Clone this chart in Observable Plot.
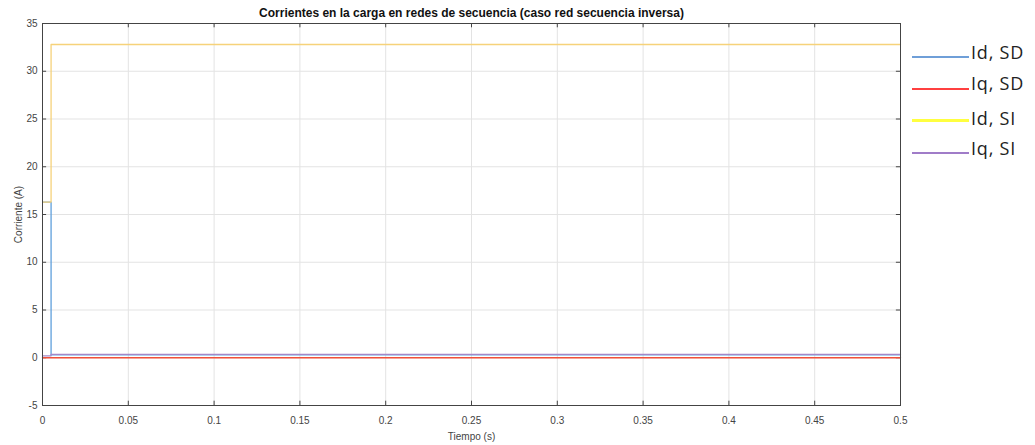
<!DOCTYPE html>
<html>
<head>
<meta charset="utf-8">
<script src="https://cdn.jsdelivr.net/npm/d3@7"></script>
<script src="https://cdn.jsdelivr.net/npm/@observablehq/plot@0.6"></script>
<style>
  html, body { margin: 0; padding: 0; background: #fff; }
  #wrap { position: relative; width: 1035px; height: 445px; }
  .sw { position: absolute; left: 912px; width: 57px; }
  .tx { position: absolute; left: 971px; white-space: nowrap; height: 24px; line-height: 24px;
        font-family: "Open Sans", "Liberation Sans", sans-serif; font-size: 18px; letter-spacing: 0.8px; color: #222; }
</style>
</head>
<body>
<div id="wrap"></div>
<script>
const titleText = "Corrientes en la carga en redes de secuencia (caso red secuencia inversa)";
const seriesNames = ["Id, SD", "Iq, SD", "Id, SI", "Iq, SI"];
const lineColors = ["#5fa0dc", "#f0503a", "#f6d27a", "#a487c8"];
const legendColors = ["#6f9fd8", "#ff4040", "#ffff40", "#a07cc8"];
const time = [0, 0.005, 0.5];
const idSD = [16.3, 0.3, 0.3];
const iqSD = [0, 0, 0];
const idSI = [16.3, 32.8, 32.8];
const iqSI = [0.2, 0.35, 0.35];
const xTicks = [0, 0.05, 0.1, 0.15, 0.2, 0.25, 0.3, 0.35, 0.4, 0.45, 0.5];
const yTicks = [-5, 0, 5, 10, 15, 20, 25, 30, 35];

const seriesVals = [idSD, iqSD, idSI, iqSI];
const rows = [];
seriesNames.forEach((n, i) => time.forEach((t, j) => rows.push({series: n, t, v: seriesVals[i][j]})));

const font = "'Liberation Sans', Helvetica, Arial, sans-serif";
const chart = Plot.plot({
  width: 1035,
  height: 445,
  marginLeft: 42,
  marginRight: 135,
  marginTop: 23,
  marginBottom: 40,
  style: {fontFamily: font, fontSize: "10px", color: "#444", background: "#fff"},
  x: {domain: [0, 0.5]},
  y: {domain: [-5, 35]},
  color: {domain: seriesNames, range: lineColors},
  marks: [
    Plot.gridX(xTicks, {stroke: "#e3e3e3", strokeOpacity: 1}),
    Plot.gridY(yTicks, {stroke: "#e3e3e3", strokeOpacity: 1}),
    Plot.ruleX(xTicks, {y1: -5, y2: -4.55, stroke: "#444"}),
    Plot.ruleX(xTicks, {y1: 35, y2: 34.55, stroke: "#444"}),
    Plot.ruleY(yTicks, {x1: 0, x2: 0.0024, stroke: "#444"}),
    Plot.ruleY(yTicks, {x1: 0.5, x2: 0.4976, stroke: "#444"}),
    Plot.line(rows, {x: "t", y: "v", z: "series", stroke: "series", curve: "step-after", strokeWidth: 1.3}),
    Plot.frame({stroke: "#444", strokeWidth: 1}),
    Plot.axisX(xTicks, {tickSize: 0, tickPadding: 11, tickFormat: d => String(d), fill: "#444",
      label: "Tiempo (s)", labelAnchor: "center", labelArrow: "none", labelOffset: 34}),
    Plot.axisY(yTicks, {tickSize: 0, tickPadding: 5, tickFormat: d => String(d), fill: "#444",
      label: "Corriente (A)", labelAnchor: "center", labelArrow: "none", labelOffset: 28}),
    Plot.text([titleText], {frameAnchor: "top", dy: -15, text: d => d, fontWeight: "bold", fontSize: 12, fill: "#111"})
  ]
});
const wrap = document.getElementById("wrap");
wrap.appendChild(chart);

const textCenter = [52, 83, 118, 148];
const lineY = [57, 89, 120, 153];
seriesNames.forEach((n, i) => {
  const s = document.createElement("div");
  s.className = "sw";
  const h = i === 2 ? 3 : 2;
  s.style.top = (lineY[i] - h / 2) + "px";
  s.style.height = h + "px";
  s.style.background = legendColors[i];
  wrap.appendChild(s);
  const t = document.createElement("div");
  t.className = "tx";
  t.style.top = (textCenter[i] - 12) + "px";
  t.textContent = n;
  wrap.appendChild(t);
});
</script>
</body>
</html>
